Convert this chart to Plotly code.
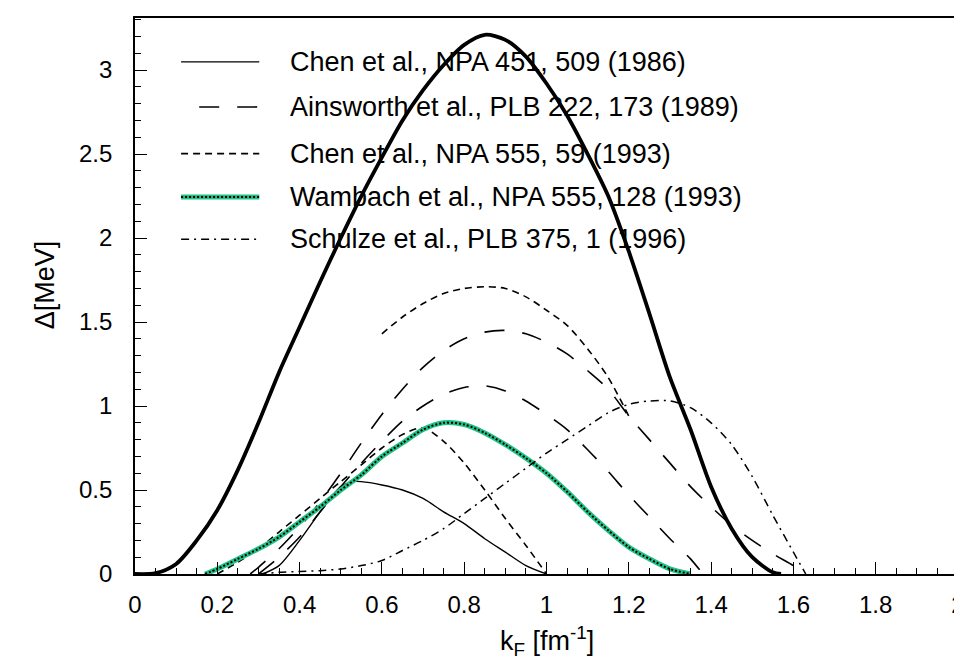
import plotly.graph_objects as go

# k_F [fm^-1] and gap [MeV]

# free-space BCS gap (thick solid, no legend entry)
kf_free = [0.0, 0.05, 0.1, 0.15, 0.2, 0.25, 0.3, 0.35, 0.4, 0.45, 0.5, 0.55, 0.6, 0.65, 0.7,
           0.75, 0.8, 0.85, 0.9, 0.95, 1.0, 1.05, 1.1, 1.15, 1.2, 1.25, 1.3, 1.35, 1.4, 1.45,
           1.5, 1.55, 1.57]
gap_free = [0.0, 0.005, 0.06, 0.2, 0.38, 0.62, 0.9, 1.2, 1.47, 1.74, 2.0, 2.25, 2.48, 2.7, 2.88,
            3.03, 3.15, 3.21, 3.18, 3.08, 2.92, 2.73, 2.5, 2.25, 1.92, 1.55, 1.17, 0.86, 0.52, 0.27,
            0.1, 0.01, 0.0]

# Chen et al. 1986 (thin solid)
kf_chen86 = [0.31, 0.35, 0.4, 0.45, 0.5, 0.53, 0.55, 0.6, 0.65, 0.7, 0.75, 0.8, 0.85, 0.9, 0.95, 1.0]
gap_chen86 = [0.0, 0.05, 0.2, 0.37, 0.52, 0.55, 0.55, 0.53, 0.5, 0.45, 0.37, 0.3, 0.21, 0.13, 0.05, 0.0]

# Ainsworth et al. 1989 (long dash, two curves)
kf_ains_a = [0.28, 0.3, 0.35, 0.4, 0.45, 0.5, 0.55, 0.6, 0.65, 0.7, 0.75, 0.8, 0.85, 0.9, 0.95,
             1.0, 1.05, 1.1, 1.15, 1.2, 1.25, 1.3, 1.35, 1.4, 1.45, 1.5, 1.55, 1.6, 1.63]
gap_ains_a = [0.0, 0.04, 0.15, 0.28, 0.43, 0.6, 0.78, 0.95, 1.1, 1.23, 1.33, 1.4, 1.44, 1.45, 1.43,
              1.38, 1.31, 1.21, 1.1, 0.94, 0.8, 0.66, 0.52, 0.4, 0.29, 0.2, 0.12, 0.05, 0.0]
kf_ains_b = [0.3, 0.35, 0.4, 0.45, 0.5, 0.55, 0.6, 0.65, 0.7, 0.75, 0.8, 0.85, 0.9, 0.95, 1.0,
             1.05, 1.1, 1.15, 1.2, 1.25, 1.3, 1.35, 1.38]
gap_ains_b = [0.0, 0.1, 0.22, 0.37, 0.52, 0.66, 0.79, 0.91, 1.0, 1.07, 1.11, 1.12, 1.09, 1.03, 0.95,
              0.86, 0.74, 0.61, 0.47, 0.34, 0.21, 0.09, 0.0]

# Chen et al. 1993 (short dash, two curves)
kf_chen93_a = [0.6, 0.65, 0.7, 0.75, 0.8, 0.85, 0.9, 0.95, 1.0, 1.05, 1.1, 1.15, 1.2]
gap_chen93_a = [1.43, 1.53, 1.61, 1.67, 1.7, 1.71, 1.7, 1.65, 1.57, 1.48, 1.34, 1.17, 0.94]
kf_chen93_b = [0.2, 0.25, 0.3, 0.35, 0.4, 0.45, 0.5, 0.55, 0.6, 0.65, 0.7, 0.75, 0.8, 0.85, 0.9,
               0.95, 1.0]
gap_chen93_b = [0.0, 0.07, 0.15, 0.25, 0.35, 0.45, 0.55, 0.65, 0.75, 0.83, 0.87, 0.79, 0.66, 0.5, 0.33,
                0.17, 0.0]

# Wambach et al. 1993 (green + dots)
kf_wamb = [0.17, 0.2, 0.25, 0.3, 0.35, 0.4, 0.45, 0.5, 0.55, 0.6, 0.65, 0.7, 0.75, 0.8, 0.85,
           0.9, 0.95, 1.0, 1.05, 1.1, 1.15, 1.2, 1.25, 1.3, 1.35]
gap_wamb = [0.0, 0.03, 0.09, 0.15, 0.22, 0.31, 0.4, 0.5, 0.59, 0.7, 0.78, 0.86, 0.9, 0.89, 0.84,
            0.77, 0.69, 0.6, 0.49, 0.37, 0.26, 0.16, 0.09, 0.03, 0.0]

# Schulze et al. 1996 (dash-dot)
kf_schulze = [0.3, 0.35, 0.4, 0.45, 0.5, 0.55, 0.6, 0.65, 0.7, 0.75, 0.8, 0.85, 0.9, 0.95, 1.0,
              1.05, 1.1, 1.15, 1.2, 1.25, 1.3, 1.35, 1.4, 1.45, 1.5, 1.55, 1.6, 1.63]
gap_schulze = [0.0, 0.01, 0.015, 0.02, 0.03, 0.05, 0.08, 0.14, 0.2, 0.27, 0.36, 0.45, 0.54, 0.63, 0.72,
               0.8, 0.88, 0.96, 1.01, 1.03, 1.03, 0.99, 0.9, 0.77, 0.58, 0.35, 0.13, 0.0]

legend_labels = [
    "Chen et al., NPA 451, 509 (1986)",
    "Ainsworth et al., PLB 222, 173 (1989)",
    "Chen et al., NPA 555, 59 (1993)",
    "Wambach et al., NPA 555, 128 (1993)",
    "Schulze et al., PLB 375, 1 (1996)",
]

GREEN = "#22c184"
LONG_DASH = "20px,18px"
SHORT_DASH = "7px,5px"
DASH_DOT = "8px,5px,2px,5px"
FONT = "Liberation Sans, Arial, sans-serif"

fig = go.Figure()


def add_curve(x, y, width=1.4, dash="solid", color="black"):
    fig.add_trace(go.Scatter(
        x=x, y=y, mode="lines",
        line=dict(color=color, width=width, dash=dash, shape="spline", smoothing=0.8),
        hoverinfo="x+y",
    ))


add_curve(kf_free, gap_free, width=3.8)
add_curve(kf_chen86, gap_chen86, width=1.4)
add_curve(kf_ains_a, gap_ains_a, width=1.6, dash=LONG_DASH)
add_curve(kf_ains_b, gap_ains_b, width=1.6, dash=LONG_DASH)
add_curve(kf_chen93_a, gap_chen93_a, width=1.6, dash=SHORT_DASH)
add_curve(kf_chen93_b, gap_chen93_b, width=1.6, dash=SHORT_DASH)
add_curve(kf_wamb, gap_wamb, width=5, color=GREEN)
add_curve(kf_wamb, gap_wamb, width=2, dash="2px,2px")
add_curve(kf_schulze, gap_schulze, width=1.5, dash=DASH_DOT)

# hand-drawn legend (long line samples like the original)
row_y = [0.921, 0.840, 0.756, 0.678, 0.602]
sample_styles = [
    [dict(color="black", width=1.4, dash="solid")],
    [dict(color="black", width=1.6, dash=LONG_DASH)],
    [dict(color="black", width=1.6, dash=SHORT_DASH)],
    [dict(color=GREEN, width=5, dash="solid"), dict(color="black", width=2, dash="2px,2px")],
    [dict(color="black", width=1.5, dash=DASH_DOT)],
]
shapes = []
annotations = []
for yy, label, styles in zip(row_y, legend_labels, sample_styles):
    x0 = 0.078 if styles[0]["dash"] == LONG_DASH else 0.056
    for st in styles:
        shapes.append(dict(type="line", xref="paper", yref="paper",
                           x0=x0, x1=0.151, y0=yy, y1=yy, line=st))
    annotations.append(dict(text=label, xref="paper", yref="paper", x=0.186, y=yy,
                            xanchor="left", yanchor="middle", showarrow=False,
                            font=dict(family=FONT, size=27, color="black")))

# axis titles
annotations.append(dict(text="Δ[MeV]", xref="paper", yref="paper", x=-0.11, y=0.52,
                        textangle=-90, xanchor="center", yanchor="middle", showarrow=False,
                        font=dict(family=FONT, size=27, color="black")))
annotations.append(dict(text="k<sub>F</sub> [fm<sup>-1</sup>]", xref="paper", yref="paper",
                        x=0.5, y=-0.12, xanchor="center", yanchor="middle", showarrow=False,
                        font=dict(family=FONT, size=27, color="black")))

axis_common = dict(
    showgrid=False, zeroline=False, showline=True, linecolor="black", linewidth=1.6,
    mirror=True, ticks="inside", ticklen=12, tickwidth=1.3, tickcolor="black",
    ticklabeloverflow="allow",
    tickfont=dict(family=FONT, size=24, color="black"),
)

fig.update_layout(
    width=962, height=662,
    margin=dict(l=127, r=5, t=10, b=96),
    plot_bgcolor="white", paper_bgcolor="white",
    showlegend=False,
    shapes=shapes,
    annotations=annotations,
    xaxis=dict(range=[0, 2], tick0=0, dtick=0.2, ticklabelstandoff=8,
               minor=dict(dtick=0.05, ticks="inside", ticklen=6, tickwidth=1, tickcolor="black"),
               **axis_common),
    yaxis=dict(range=[0, 3.31], tick0=0, dtick=0.5, ticklabelstandoff=16,
               minor=dict(dtick=0.1, ticks="inside", ticklen=6, tickwidth=1, tickcolor="black"),
               **axis_common),
)

fig.write_html("out.html")
